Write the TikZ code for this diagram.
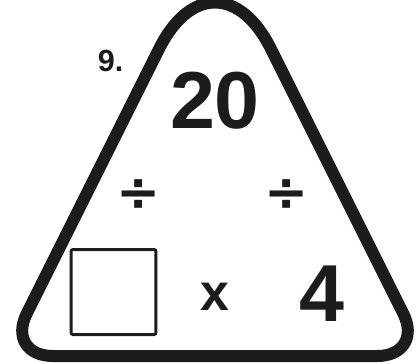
\documentclass[tikz,border=0pt]{standalone}
\usepackage{fontspec}
\setmainfont{Liberation Sans}
\newfontfamily\symfont{DejaVu Sans}
\definecolor{ink}{HTML}{1C1C1C}
\tikzset{
  edge/.style={draw=ink, line width=0.24cm, line join=round},
  bignum/.style={inner sep=0pt, text=ink, font=\fontsize{46}{46}\selectfont\bfseries},
  opsign/.style={inner sep=0pt, text=ink, font=\symfont\fontsize{30}{30}\selectfont\bfseries},
}
\begin{document}
\begin{tikzpicture}[x=0.02cm, y=-0.02cm]
  \useasboundingbox (0,0) rectangle (419,363);
  % corners of the triangle
  \coordinate (top) at (215,-63);
  \coordinate (bl) at (5.5,356);
  \coordinate (br) at (424.5,356);
  \draw[edge] (215,356) [rounded corners=0.95cm] -- (bl)
    [rounded corners=2.5cm] -- (top)
    [rounded corners=0.95cm] -- (br) -- cycle;
  % numbers
  \node[bignum] (num20) at (215,101) {20};
  \node[bignum] (num4) at (321.5,294) {4};
  \node[inner sep=0pt, text=ink, font=\fontsize{29.5}{30}\selectfont\bfseries] (times) at (214.5,296.5) {x};
  \node[opsign] (divl) at (139,195) {÷};
  \node[opsign] (divr) at (287,195) {÷};
  \node[draw=ink, line width=0.06cm, rounded corners=0.04cm, minimum size=1.7cm, inner sep=0pt] (box) at (113.5,292) {};
  \node[inner sep=0pt, text=ink, font=\fontsize{17.4}{18}\selectfont\bfseries] (label) at (110.5,61) {9.};
\end{tikzpicture}
\end{document}
